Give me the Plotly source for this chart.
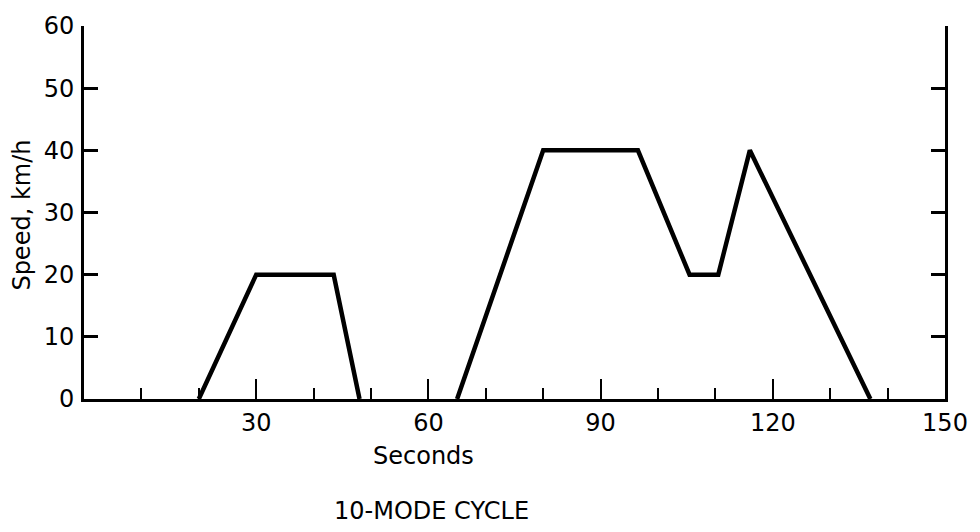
import plotly.graph_objects as go

# 10-mode driving cycle: time (s) vs vehicle speed (km/h); None breaks the idle stretch
time_s = [20, 30, 43.5, 48, None, 65, 80, 96.5, 105.5, 110.5, 116, 137]
speed_kmh = [0, 20, 20, 0, None, 0, 40, 40, 20, 20, 40, 0]

x_ticks = [30, 60, 90, 120, 150]
y_ticks = [0, 10, 20, 30, 40, 50, 60]

FONT = "DejaVu Sans"
INK = "#000000"

L, R, T, B = 84, 33, 21, 133
W, H = 980, 532
plot_w = W - L - R
plot_h = H - T - B


def px_x(px):
    return (px - L) / plot_w


def px_y(py):
    return (H - py - B) / plot_h


fig = go.Figure()
fig.add_trace(go.Scatter(
    x=time_s, y=speed_kmh, mode="lines", connectgaps=False,
    line=dict(color=INK, width=4.5),
    hoverinfo="skip", showlegend=False,
))

fig.update_layout(
    width=W, height=H,
    margin=dict(l=L, r=R, t=T, b=B),
    paper_bgcolor="white", plot_bgcolor="white",
    font=dict(family=FONT, size=24, color=INK),
    xaxis=dict(
        range=[0, 150], tickvals=x_ticks, ticktext=[str(v) for v in x_ticks],
        ticks="inside", ticklen=20, tickwidth=2, tickcolor=INK,
        minor=dict(dtick=10, tick0=0, ticks="inside", ticklen=11,
                   tickwidth=2, tickcolor=INK, showgrid=False),
        showline=True, linewidth=3, linecolor=INK,
        showgrid=False, zeroline=False, ticklabelstandoff=0,
        tickfont=dict(family=FONT, size=24),
    ),
    yaxis=dict(
        range=[0, 60], tickvals=y_ticks,
        ticks="inside", ticklen=14, tickwidth=2.5, tickcolor=INK,
        showline=True, linewidth=3, linecolor=INK, mirror="ticks",
        showgrid=False, zeroline=False, ticklabelstandoff=2,
        tickfont=dict(family=FONT, size=24),
    ),
    annotations=[
        dict(text="Seconds", x=px_x(424), y=px_y(457),
             xref="paper", yref="paper", xanchor="center", yanchor="middle",
             showarrow=False, font=dict(family=FONT, size=24)),
        dict(text="10-MODE CYCLE", x=px_x(432), y=px_y(512),
             xref="paper", yref="paper", xanchor="center", yanchor="middle",
             showarrow=False, font=dict(family=FONT, size=24)),
        dict(text="Speed, km/h", x=px_x(22), y=px_y(213),
             xref="paper", yref="paper", xanchor="center", yanchor="middle",
             textangle=-90, showarrow=False, font=dict(family=FONT, size=24)),
    ],
)

fig.write_html("out.html")
